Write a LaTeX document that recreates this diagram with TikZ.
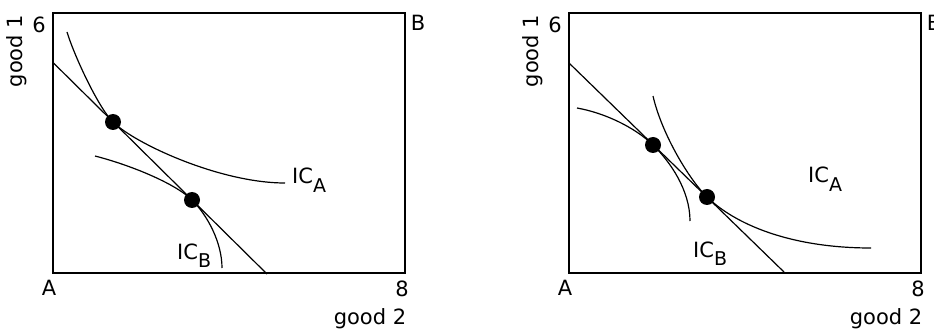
\documentclass[tikz,border=0pt]{standalone}
\usepackage{fontspec}
\setmainfont{DejaVu Sans}
\usetikzlibrary{calc}
\tikzset{
  frame/.style={line width=1.8pt},
  icurve/.style={line width=1.2pt},
  bline/.style={line width=1.2pt},
  tdot/.style={circle,fill=black,inner sep=0pt,minimum size=16pt},
  tlab/.style={inner sep=0pt,anchor=base},
  iclab/.style={inner sep=0pt,anchor=base west}
}
\newcommand{\icsub}[1]{IC\raisebox{-0.42em}{\fontsize{19}{19}\selectfont #1}}

\begin{document}
\begin{tikzpicture}[x=1pt,y=-1pt,font=\fontsize{21}{25}\selectfont]
  \useasboundingbox (0,0) rectangle (934,331);
  % boxes and axis labels
  \foreach \dx/\p in {0/L,516/R}{
    \begin{scope}[xshift=\dx pt]
      \draw[frame] (53,13) rectangle (405,273);
      \node[tlab] (\p six) at (39,33) {6};
      \node[tlab] (\p B) at (418,31) {B};
      \node[tlab] (\p A) at (49,295) {A};
      \node[tlab] (\p eight) at (402,296) {8};
      \node[tlab] (\p good2) at (370,324) {good 2};
      \node[rotate=90,inner sep=0pt] (\p good1) at (17,51) {good 1};
    \end{scope}
  }
  % left panel
  \coordinate (bL0) at (53,62.5);
  \coordinate (bL1) at (267,274);
  \coordinate (pL1) at (113,122);
  \coordinate (pL2) at (192,200);
  \draw[bline] (bL0) -- (bL1);
  \draw[icurve] (67,32) .. controls (74,55) and (98,107.2) .. (pL1)
    .. controls (135,143.7) and (220,183) .. (285,183);
  \draw[icurve] (95,156) .. controls (130,165) and (175,183.2) .. (pL2)
    .. controls (207,214.8) and (222,242) .. (222,268);
  \node[tdot] (dL1) at (pL1) {};
  \node[tdot] (dL2) at (pL2) {};
  \node[iclab] (icAL) at (292,184) {\icsub{A}};
  \node[iclab] (icBL) at (177,259) {\icsub{B}};
  % right panel
  \coordinate (bR0) at (569,63);
  \coordinate (bR1) at (784,272);
  \coordinate (pR1) at (653,145);
  \coordinate (pR2) at (707,197);
  \draw[bline] (bR0) -- (bR1);
  \draw[icurve] (577,108) .. controls (605,113) and (635,127.5) .. (pR1)
    .. controls (670,161.5) and (690,190) .. (690,221);
  \draw[icurve] (653,96) .. controls (662,135) and (690,180.5) .. (pR2)
    .. controls (735,224.2) and (790,248) .. (871,248);
  \node[tdot] (dR1) at (pR1) {};
  \node[tdot] (dR2) at (pR2) {};
  \node[iclab] (icAR) at (808,183) {\icsub{A}};
  \node[iclab] (icBR) at (693,257) {\icsub{B}};
\end{tikzpicture}
\end{document}
